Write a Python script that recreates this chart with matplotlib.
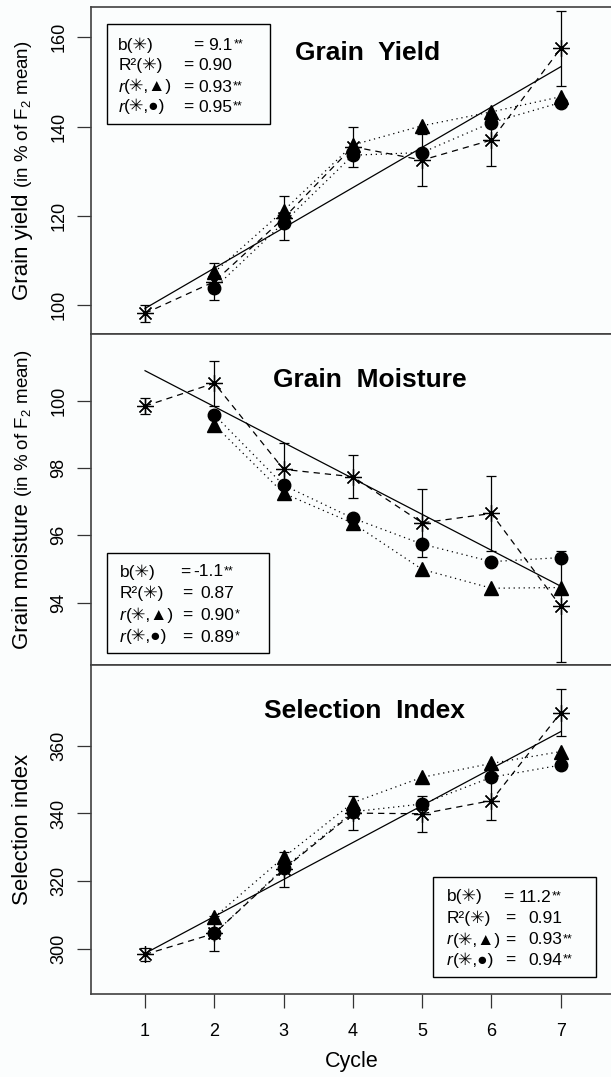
import numpy as np
import matplotlib
matplotlib.use("Agg")
import matplotlib.pyplot as plt
from matplotlib.patches import Rectangle

plt.rcParams['font.family'] = ['Liberation Sans', 'DejaVu Sans']
plt.rcParams['mathtext.fontset'] = 'custom'
plt.rcParams['mathtext.rm'] = 'Liberation Sans'
plt.rcParams['mathtext.it'] = 'Liberation Sans:italic'

W, H = 611, 1077

cycles = [1, 2, 3, 4, 5, 6, 7]
cycles_later = [2, 3, 4, 5, 6, 7]

# Grain yield (% of F2 mean)
gy_star = [98.2, 105.3, 119.5, 135.5, 132.5, 137.0, 157.5]
gy_err = [1.9, 4.2, 4.9, 4.5, 5.8, 5.8, 8.4]
gy_tri = [107.4, 121.2, 135.9, 140.2, 143.3, 146.7]
gy_dot = [103.8, 118.5, 133.6, 134.2, 140.9, 145.4]
gy_fit = [99.3, 153.4]          # regression line value at cycle 1 and 7

# Grain moisture (% of F2 mean)
gm_star = [99.84, 100.52, 97.96, 97.74, 96.37, 96.65, 93.89]
gm_err = [0.23, 0.67, 0.78, 0.64, 1.01, 1.12, 1.66]
gm_tri = [99.28, 97.25, 96.36, 94.99, 94.43, 94.45]
gm_dot = [99.58, 97.49, 96.51, 95.74, 95.22, 95.34]
gm_fit = [100.89, 94.49]

# Selection index
si_star = [298.3, 304.5, 323.5, 340.1, 339.9, 343.8, 369.8]
si_err = [1.9, 5.1, 5.2, 5.0, 5.3, 5.8, 7.0]
si_tri = [309.3, 327.0, 343.2, 350.7, 354.8, 358.3]
si_dot = [304.5, 323.8, 340.5, 342.8, 350.7, 354.3]
si_fit = [298.6, 364.2]

titles = ["Grain  Yield", "Grain  Moisture", "Selection  Index"]
ylabels = [("Grain yield", "(in % of F$_2$ mean)"),
           ("Grain moisture", "(in % of F$_2$ mean)"),
           ("Selection index", None)]
yticks = [[100, 120, 140, 160], [94, 96, 98, 100], [300, 320, 340, 360]]
ylims = [(93.57, 166.85), (92.15, 101.98), (286.6, 383.9)]

stats_labels = [("", "b(\u2733)"), ("", "R\u00b2(\u2733)"),
                ("r", "(\u2733,\u25b2)"), ("r", "(\u2733,\u25cf)")]
stats_values = [["9.1", "0.90", "0.93", "0.95"],
                ["-1.1", "0.87", "0.90", "0.89"],
                ["11.2", "0.91", "0.93", "0.94"]]
stats_sig = [["**", "", "**", "**"],
             ["**", "", "*", "*"],
             ["**", "", "**", "**"]]


def fx(px):
    return px / W


def fy(py):
    return 1 - py / H


fig = plt.figure(figsize=(W / 100, H / 100), dpi=100)
fig.patch.set_facecolor('#fbfdfd')

panel_px = [(6.7, 334), (334, 665), (665, 994)]
axes = []
for top, bot in panel_px:
    ax = fig.add_axes([fx(91), fy(bot), fx(612) - fx(91), (bot - top) / H])
    ax.set_facecolor('#fbfdfd')
    axes.append(ax)

data = [(gy_star, gy_err, gy_tri, gy_dot, gy_fit),
        (gm_star, gm_err, gm_tri, gm_dot, gm_fit),
        (si_star, si_err, si_tri, si_dot, si_fit)]

for i, ax in enumerate(axes):
    star, err, tri, dot, fit = data[i]
    ax.plot([cycles[0], cycles[-1]], fit, color='black', lw=0.9, zorder=2)
    ax.errorbar(cycles, star, yerr=err, fmt='none', ecolor='black',
                elinewidth=0.9, capsize=3.6, capthick=0.9, zorder=3)
    ax.plot(cycles_later, tri, ls=(0, (1, 3)), color='black', lw=0.9,
            marker='^', ms=9.5, zorder=4)
    ax.plot(cycles_later, dot, ls=(0, (1, 3)), color='black', lw=0.9,
            marker='o', ms=9, zorder=4)
    ax.plot(cycles, star, ls=(0, (5, 4)), color='black', lw=0.9,
            marker=(8, 2, 0), ms=12, mew=0.9, zorder=5)

    ax.set_xlim(0.22, 7.74)
    ax.set_ylim(*ylims[i])
    ax.set_yticks(yticks[i])
    ax.tick_params(axis='y', direction='out', length=10, width=0.9,
                   labelsize=13, pad=7, labelrotation=90, color='#333333')
    for lab in ax.get_yticklabels():
        lab.set_va('center')
    for s in ax.spines.values():
        s.set_color('#404040')
        s.set_linewidth(1.2)
    if i < 2:
        ax.tick_params(axis='x', bottom=False, labelbottom=False)
    else:
        ax.set_xticks(cycles)
        ax.tick_params(axis='x', direction='out', length=10, width=0.9,
                       labelsize=13, pad=11, color='#333333')

axes[2].set_xlabel("Cycle", fontsize=15.5, labelpad=8)

# titles
title_pos = [(367.5, 60), (370, 386.7), (364, 718.3)]
for t, (px, py) in zip(titles, title_pos):
    fig.text(fx(px), fy(py), t, ha='center', va='baseline',
             fontsize=19, fontweight='bold')

# statistics boxes
boxes = [(107.3, 24, 270, 124.3), (106.7, 552.7, 269.3, 653.3),
         (433.3, 877.3, 596, 977.3)]
box_text = [dict(x0=118.3, base=[50, 70, 91.5, 111.5],
                 eq=[193.3, 183.3, 183.3, 183.3], num=[208.3, 198.3, 198.3, 198.3]),
            dict(x0=120, base=[576.5, 598, 620, 641.5],
                 eq=[180, 181.7, 181.7, 181.7], num=[193.3, 200, 200, 200]),
            dict(x0=446.7, base=[901.5, 923, 944.5, 965],
                 eq=[503.3, 505, 505, 505], num=[518.3, 528.3, 528.3, 528.3])]

fs = 12.5
for b, (x0, y0, x1, y1) in enumerate(boxes):
    fig.add_artist(Rectangle((fx(x0), fy(y1)), fx(x1) - fx(x0), fy(y0) - fy(y1),
                             transform=fig.transFigure, fill=False,
                             edgecolor='black', lw=1.0))
    bt = box_text[b]
    ax = axes[b]
    for k, (ital, rest) in enumerate(stats_labels):
        yb = fy(bt['base'][k])
        if ital:
            t = fig.text(fx(bt['x0']), yb, ital, fontsize=fs, style='italic',
                         ha='left', va='baseline')
            ax.annotate(rest, xy=(1, 0), xycoords=t, ha='left', va='bottom',
                        fontsize=fs)
        else:
            fig.text(fx(bt['x0']), yb, rest, fontsize=fs, ha='left', va='baseline')
        fig.text(fx(bt['eq'][k]), yb, "=", fontsize=fs, ha='left', va='baseline')
        tv = fig.text(fx(bt['num'][k]), yb, stats_values[b][k], fontsize=fs,
                      ha='left', va='baseline')
        if stats_sig[b][k]:
            ax.annotate(stats_sig[b][k], xy=(1, 0.95), xycoords=tv,
                        xytext=(0.5, 0), textcoords='offset points',
                        ha='left', va='top', fontsize=9)

# y labels (two sizes, like the original)
fig.canvas.draw()
r = fig.canvas.get_renderer()
for ax, (main, sub) in zip(axes, ylabels):
    parts = [fig.text(0, 0, main, rotation=90, rotation_mode='anchor',
                      ha='left', va='baseline', fontsize=16)]
    if sub:
        parts.append(fig.text(0, 0, sub, rotation=90, rotation_mode='anchor',
                              ha='left', va='baseline', fontsize=13.5))
    hs = [p.get_window_extent(r).height for p in parts]
    gap = 6 if sub else 0
    total = sum(hs) + gap
    bb = ax.get_window_extent(r)
    start = (bb.y0 + bb.y1) / 2 - total / 2
    parts[0].set_position((fx(28), start / H))
    if sub:
        parts[1].set_position((fx(28), (start + hs[0] + gap) / H))

fig.savefig("out.png", dpi=100, facecolor=fig.get_facecolor())
